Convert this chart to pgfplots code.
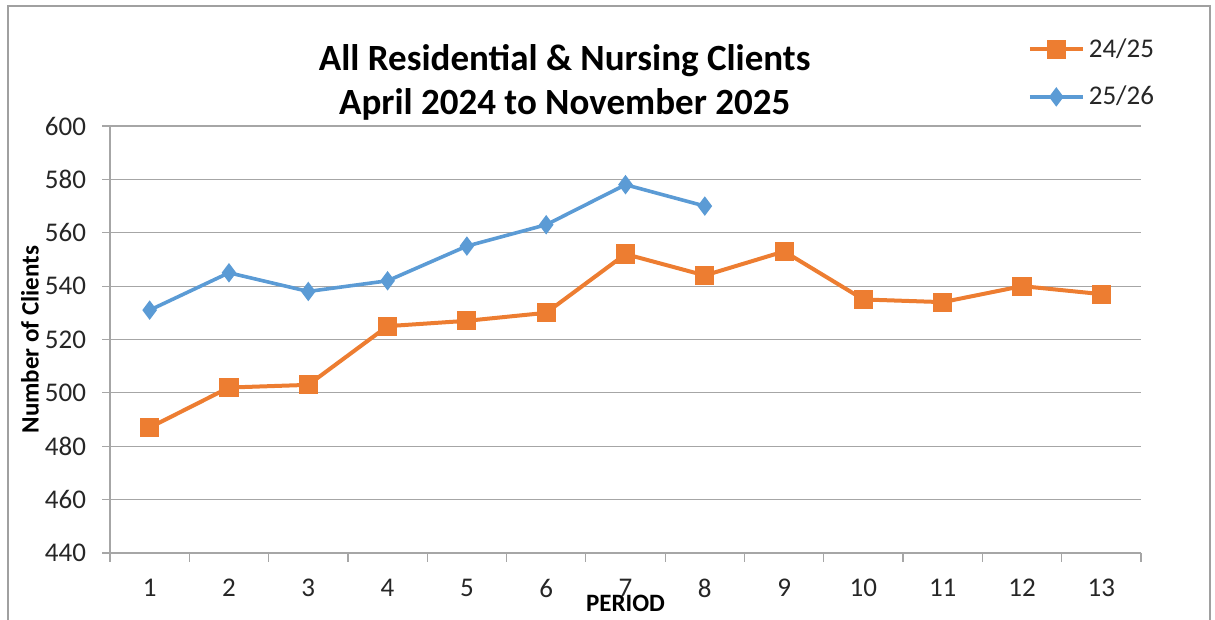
\documentclass[border=0pt]{standalone}
\usepackage{fontspec}
\setmainfont{Carlito}
\usepackage{pgfplots}
\pgfplotsset{compat=1.18}
\definecolor{orangeS}{HTML}{ED7D31}
\definecolor{blueS}{HTML}{5B9BD5}
\definecolor{gridgray}{HTML}{A6A6A6}
\definecolor{framegray}{HTML}{A0A0A0}
\definecolor{txt}{HTML}{262626}
\begin{document}
\begin{tikzpicture}
  \useasboundingbox (0,0) rectangle (607.5pt,310pt);
  \draw[framegray, line width=0.6pt] (4pt,-2pt) -- (4pt,307pt) -- (605pt,307pt) -- (605pt,-2pt);
  \begin{axis}[
      at={(55pt,33.5pt)}, anchor=south west,
      scale only axis,
      width=515.5pt, height=213.5pt,
      xmin=0.5, xmax=13.5,
      ymin=440, ymax=600,
      xtick={1,...,13},
      ytick={440,460,...,600},
      minor xtick={0.5,1.5,...,13.5},
      major x tick style={draw=none},
      minor x tick style={gridgray, line width=0.6pt},
      y tick style={gridgray, line width=0.6pt},
      tick align=outside,
      minor tick length=4.5pt,
      major tick length=4pt,
      axis x line*=bottom, axis y line*=left,
      axis line style={gridgray, line width=0.6pt},
      ymajorgrids=true,
      grid style={gridgray, line width=0.6pt},
      ticklabel style={font=\fontsize{13.5}{15}\selectfont, text=txt},
      yticklabel style={xshift=-4.5pt},
      xticklabel style={yshift=-5.5pt},
      /pgf/number format/assume math mode=true,
      title={All Residential \& Nursing Clients\\April 2024 to November 2025},
      title style={at={(axis description cs:0.441,1.075)}, anchor=center, align=center,
        font=\bfseries\fontsize{18.5}{22}\selectfont},
      xlabel={PERIOD},
      xlabel style={at={(axis description cs:0.5,-0.117)}, anchor=center,
        font=\bfseries\fontsize{12.5}{14}\selectfont},
      ylabel={Number of Clients},
      ylabel style={at={(axis description cs:-0.0776,0.5)}, anchor=center,
        font=\bfseries\fontsize{12.5}{14}\selectfont},
      legend style={at={(axis description cs:0.884,1.225)}, anchor=north west,
        draw=none, fill=none, font=\fontsize{13.5}{15}\selectfont, text=txt,
        row sep=9pt, legend cell align=left},
      legend image code/.code={
        \draw[mark repeat=2, mark phase=2, #1] plot coordinates {(0pt,0pt) (13.25pt,0pt) (26.5pt,0pt)};},
    ]
    \addplot[orangeS, line width=2pt, mark=square*, mark size=3.8pt,
      mark options={solid}] coordinates {
      (1,487) (2,502) (3,503) (4,525) (5,527) (6,530) (7,552)
      (8,544) (9,553) (10,535) (11,534) (12,540) (13,537)};
    \addplot[blueS, line width=1.8pt, mark=diamond*, mark size=3.4pt,
      mark options={solid}] coordinates {
      (1,531) (2,545) (3,538) (4,542) (5,555) (6,563) (7,578) (8,570)};
    \legend{24/25, 25/26}
  \end{axis}
\end{tikzpicture}
\end{document}
